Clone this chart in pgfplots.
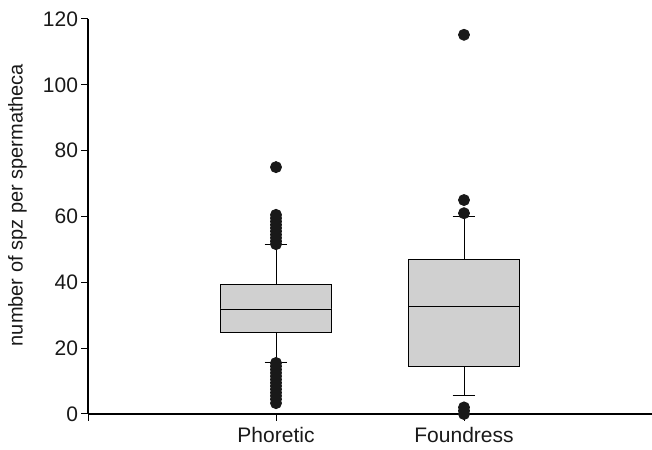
\documentclass[border=0pt]{standalone}
\usepackage{fontspec}
\setmainfont{Liberation Sans}
\usepackage{pgfplots}
\pgfplotsset{compat=1.18}
\usepgfplotslibrary{statistics}
\definecolor{boxgray}{RGB}{208,208,208}
\begin{document}
\begin{tikzpicture}
\useasboundingbox (0,0) rectangle (652bp,450bp);
\begin{axis}[
  at={(88bp,36bp)}, anchor=south west,
  scale only axis, width=564bp, height=395bp,
  xmin=0, xmax=3, ymin=0, ymax=120,
  axis x line=bottom, axis y line=left,
  axis line style={-, line width=1.6bp, black},
  xtick={0,1,2}, xticklabels={,Phoretic,Foundress},
  ytick={0,20,...,120},
  tick align=outside, major tick length=6.5bp,
  tick style={black, line width=1bp},
  ticklabel style={font=\fontsize{21bp}{25bp}\selectfont, text=black!90},
  xticklabel style={yshift=-3bp},
  /pgf/number format/assume math mode=true,
  ylabel={number of spz per spermatheca},
  ylabel style={font=\fontsize{20bp}{24bp}\selectfont, text=black!90, at={(axis description cs:-0.125,0.529)}, anchor=center},
  clip=false,
  boxplot/draw direction=y,
]
\addplot[boxplot prepared={median=31.9, upper quartile=39.5, lower quartile=24.9, upper whisker=51.4, lower whisker=15.8, draw position=1, box extend=0.595, whisker extend=0.12},
  draw=black, line width=0.9bp, fill=boxgray, mark=*, mark options={draw=black!90, fill=black!90}, mark size=5.5bp]
  table[row sep=\\, y index=0] {75\\60.5\\59.5\\58.5\\57.5\\56.5\\55.5\\54.5\\53.5\\52.5\\51.6\\15.5\\14.5\\13.5\\12.5\\11.5\\10.5\\9.5\\8.5\\7.5\\6.5\\5.5\\4.5\\3.3\\};
\addplot[boxplot prepared={median=32.8, upper quartile=46.8, lower quartile=14.3, upper whisker=59.9, lower whisker=5.5, draw position=2, box extend=0.595, whisker extend=0.12},
  draw=black, line width=0.9bp, fill=boxgray, mark=*, mark options={draw=black!90, fill=black!90}, mark size=5.5bp]
  table[row sep=\\, y index=0] {115.2\\65\\61\\2\\1\\0\\};
\end{axis}
\end{tikzpicture}
\end{document}
